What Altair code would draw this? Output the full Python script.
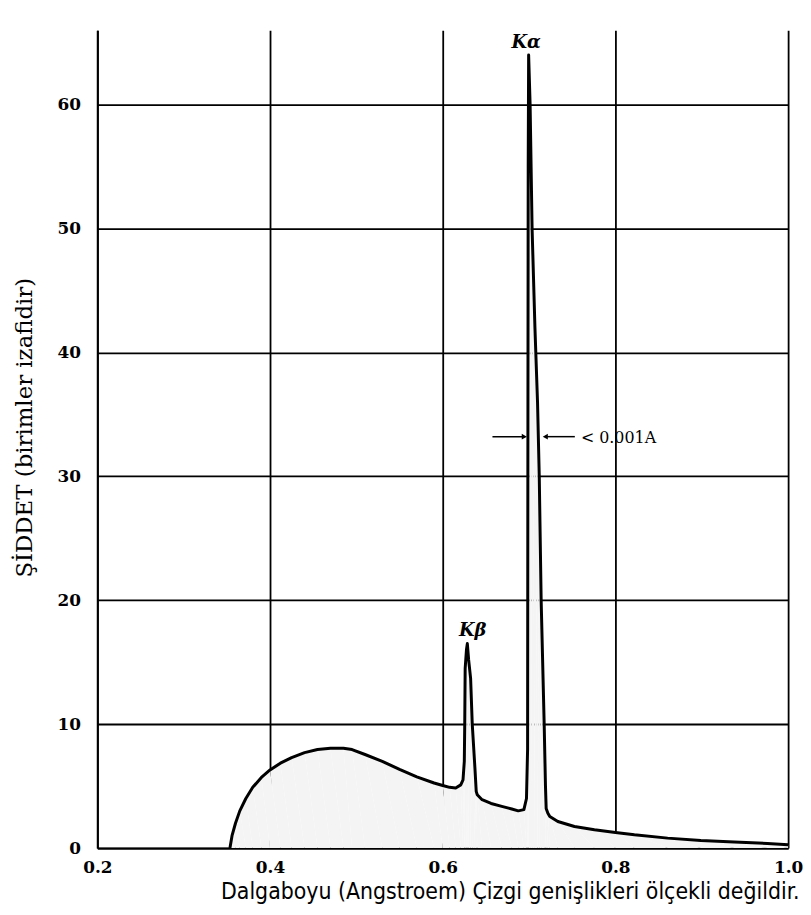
import altair as alt
import pandas as pd

# Spectrum trace (wavelength in Angstrom, relative intensity)
wavelength = [0.3536, 0.3560, 0.3600, 0.3650, 0.3720, 0.3800, 0.3900, 0.4000, 0.4120, 0.4250,
              0.4400, 0.4550, 0.4700, 0.4850, 0.4950, 0.5100, 0.5300, 0.5500, 0.5700, 0.5900,
              0.6000, 0.6080, 0.6150, 0.6209, 0.6235, 0.6250, 0.6255, 0.6260, 0.6275, 0.6285,
              0.6300, 0.6323, 0.6342, 0.6373, 0.6388, 0.6400, 0.6456, 0.6560, 0.6684, 0.6800,
              0.6875, 0.6940, 0.6970, 0.6983, 0.6986, 0.6990, 0.6995, 0.7012, 0.7035, 0.7068,
              0.7098, 0.7118, 0.7140, 0.7175, 0.7190, 0.7198, 0.7218, 0.7240, 0.7333, 0.7526,
              0.7757, 0.8000, 0.8220, 0.8605, 0.8990, 0.9376, 0.9760, 1.0000]
intensity = [0.0, 1.0, 2.0, 3.0, 4.0, 4.9, 5.7, 6.3, 6.85, 7.3,
             7.7, 7.95, 8.05, 8.05, 7.95, 7.55, 7.0, 6.35, 5.75, 5.25,
             5.05, 4.9, 4.85, 5.1, 5.5, 7.0, 10.0, 14.5, 16.0, 16.5,
             15.2, 13.7, 10.0, 6.45, 4.57, 4.3, 3.9, 3.6, 3.36, 3.15,
             3.0, 3.1, 4.0, 8.0, 30.0, 55.0, 64.0, 60.0, 50.0, 42.0,
             36.0, 30.0, 20.0, 10.0, 5.0, 3.2, 2.8, 2.54, 2.14, 1.74,
             1.47, 1.26, 1.07, 0.8, 0.61, 0.48, 0.37, 0.27]
assert len(wavelength) == len(intensity)

x_ticks = [0.2, 0.4, 0.6, 0.8, 1.0]
y_ticks = [0, 10, 20, 30, 40, 50, 60]

peak_names = ["Kα", "Kβ"]
peak_x = [0.6965, 0.6348]
peak_y = [65.0, 17.55]

note_text = ["< 0.001A"]
note_x = [0.7600]
note_y = [33.1]
arrow_start = [0.6576, 0.7530]
arrow_tip = [0.6945, 0.7188]
arrow_shape = ["triangle-right", "triangle-left"]
arrow_y = [33.2, 33.2]

x_title = "Dalgaboyu (Angstroem) Çizgi genişlikleri ölçekli değildir."
y_title = "ŞİDDET (birimler izafidir)"

spec = pd.DataFrame({"wl": wavelength, "it": intensity, "i": list(range(len(wavelength)))})
peaks = pd.DataFrame({"name": peak_names, "wl": peak_x, "it": peak_y})
note = pd.DataFrame({"t": note_text, "wl": note_x, "it": note_y})
arrows = pd.DataFrame({"a": arrow_start, "b": arrow_tip, "it": arrow_y, "shape": arrow_shape})

xscale = alt.Scale(domain=[0.2, 1.0], nice=False, zero=False)
yscale = alt.Scale(domain=[0, 66], nice=False)

X = alt.X("wl:Q", scale=xscale, axis=alt.Axis(
    values=x_ticks, format=".1f", title=x_title, grid=True, labelPadding=12,
    labelFlush=False, labelOverlap=False,
    titleFont="Liberation Sans Narrow, DejaVu Sans Condensed, Liberation Sans, sans-serif",
    titleFontSize=23, titleFontWeight="normal", titleColor="black",
    titleAlign="right", titleBaseline="middle", titleX=707, titleY=44))
Y = alt.Y("it:Q", scale=yscale, axis=alt.Axis(
    values=y_ticks, format="d", title=y_title, grid=True, labelPadding=17,
    labelOverlap=False,
    titleFont="DejaVu Serif", titleFontSize=23, titleFontWeight="normal", titleColor="black",
    titleAlign="center", titleBaseline="middle", titleX=-73, titleY=400))

base = alt.Chart(spec)
area = base.mark_area(color="#f4f4f4").encode(x=X, y=Y, order="i:Q")
line = base.mark_line(color="black", strokeWidth=3, strokeJoin="round").encode(
    x="wl:Q", y="it:Q", order="i:Q")

peak_text = alt.Chart(peaks).mark_text(
    font="DejaVu Serif", fontStyle="italic", fontWeight="bold", fontSize=18,
    color="black", align="center", baseline="middle").encode(
    x="wl:Q", y="it:Q", text="name:N")

note_mark = alt.Chart(note).mark_text(
    font="DejaVu Serif", fontSize=16, color="black", align="left", baseline="middle").encode(
    x="wl:Q", y="it:Q", text="t:N")

arrow_rules = alt.Chart(arrows).mark_rule(color="black", strokeWidth=1.5).encode(
    x="a:Q", x2="b:Q", y="it:Q")
arrow_heads = alt.Chart(arrows).mark_point(filled=True, color="black", size=35, opacity=1).encode(
    x="b:Q", y="it:Q",
    shape=alt.Shape("shape:N", scale=None, legend=None))

chart = alt.layer(area, line, peak_text, note_mark, arrow_rules, arrow_heads).properties(
    width=696, height=824,
    autosize=alt.AutoSizeParams(type="none"),
    padding={"left": 90, "top": 19, "right": 15, "bottom": 56},
    background="white",
).configure_axis(
    domainColor="black", domainWidth=2, gridColor="black", gridWidth=1.8, gridOpacity=1,
    ticks=False, tickSize=0, labelFont="DejaVu Serif", labelFontWeight="bold",
    labelFontSize=17, labelColor="black", zindex=1
).configure_view(stroke="transparent", strokeWidth=0)

chart.save("out.html", embed_options={"renderer": "svg", "actions": False})
